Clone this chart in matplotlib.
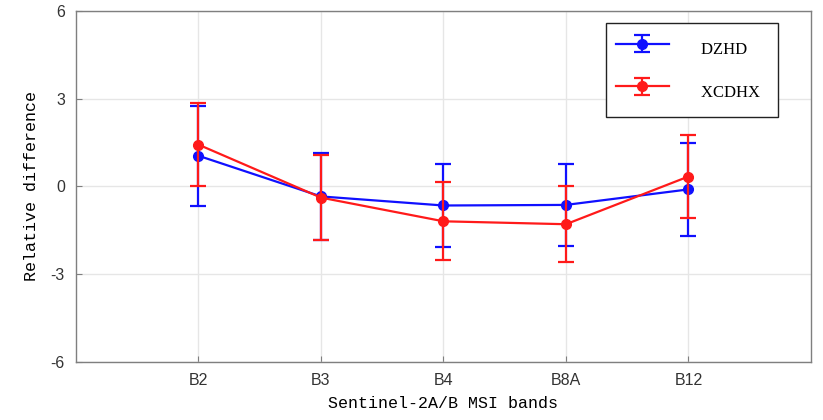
import matplotlib.pyplot as plt
import numpy as np

plt.rcParams['axes.unicode_minus'] = False

bands = ["B2", "B3", "B4", "B8A", "B12"]

# mean relative difference and error half-width per band
dzhd_mean = [1.05, -0.34, -0.65, -0.63, -0.10]
dzhd_err = [1.71, 1.49, 1.41, 1.40, 1.59]
xcdhx_mean = [1.43, -0.38, -1.19, -1.29, 0.34]
xcdhx_err = [1.43, 1.45, 1.33, 1.30, 1.41]

yticks = [-6, -3, 0, 3, 6]

fig = plt.figure(figsize=(8.23, 4.2), dpi=100)
ax = fig.add_axes([0.0923, 0.138, 0.893, 0.836])

x = np.arange(1, len(bands) + 1)

ax.errorbar(x, dzhd_mean, yerr=dzhd_err, color="#1010ff", marker="o",
            markersize=7, linewidth=1.6, elinewidth=1.6, capsize=6,
            capthick=1.6, label="DZHD  ", zorder=3)
ax.errorbar(x, xcdhx_mean, yerr=xcdhx_err, color="#ff1a1a", marker="o",
            markersize=7, linewidth=1.6, elinewidth=1.6, capsize=6,
            capthick=1.6, label="XCDHX  ", zorder=4)

ax.set_xlim(0, 6)
ax.set_ylim(-6, 6)
ax.set_xticks(x)
ax.set_xticklabels(bands)
ax.set_yticks(yticks)

ax.grid(True, color="#e6e6e6", linewidth=1.0)
ax.set_axisbelow(True)
for s in ax.spines.values():
    s.set_color("#7f7f7f")
    s.set_linewidth(1.0)
ax.tick_params(direction="in", length=4, color="#7f7f7f",
               labelsize=11.5, labelcolor="#333333", pad=8, top=False, right=False)
for lbl in ax.get_xticklabels() + ax.get_yticklabels():
    lbl.set_family("Liberation Sans")

ax.set_xlabel("Sentinel-2A/B MSI bands", family="Liberation Mono",
              fontsize=12, labelpad=6)
ax.set_ylabel("Relative difference", family="Liberation Mono",
              fontsize=12, labelpad=8)

leg = ax.legend(loc="upper right", bbox_to_anchor=(0.955, 0.965),
                borderaxespad=0,
                prop={"family": "Liberation Serif", "size": 12},
                handlelength=3.2, handleheight=2.5, handletextpad=1.9,
                borderpad=0.6, labelspacing=0.7, fancybox=False, framealpha=1)
leg.get_frame().set_edgecolor("#222222")
leg.get_frame().set_linewidth(1.0)

fig.savefig("out.png", dpi=100)
